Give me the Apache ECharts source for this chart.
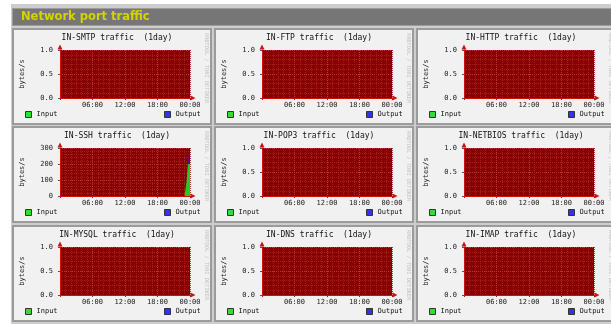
<!DOCTYPE html>
<html>
<head>
<meta charset="utf-8">
<script src="https://cdn.jsdelivr.net/npm/echarts@6/dist/echarts.min.js"></script>
<style>
  html, body { margin: 0; padding: 0; background: #ffffff; }
  #chart { width: 611px; height: 324px; }
</style>
</head>
<body>
<div id="chart"></div>
<script>
// Sample times (hours since midnight, one day window)
const sampleHours = [0, 2, 4, 6, 8, 10, 12, 14, 16, 18, 20, 22, 23, 23.2, 23.4, 23.6, 23.7, 24];

// Traffic per port, bytes/s
const smtpIn     = [0, 0, 0, 0, 0, 0, 0, 0, 0, 0, 0, 0, 0, 0, 0, 0, 0, 0];
const smtpOut    = [0, 0, 0, 0, 0, 0, 0, 0, 0, 0, 0, 0, 0, 0, 0, 0, 0, 0];
const ftpIn      = [0, 0, 0, 0, 0, 0, 0, 0, 0, 0, 0, 0, 0, 0, 0, 0, 0, 0];
const ftpOut     = [0, 0, 0, 0, 0, 0, 0, 0, 0, 0, 0, 0, 0, 0, 0, 0, 0, 0];
const httpIn     = [0, 0, 0, 0, 0, 0, 0, 0, 0, 0, 0, 0, 0, 0, 0, 0, 0, 0];
const httpOut    = [0, 0, 0, 0, 0, 0, 0, 0, 0, 0, 0, 0, 0, 0, 0, 0, 0, 0];
const sshIn      = [0, 0, 0, 0, 0, 0, 0, 0, 0, 0, 0, 0, 0, 0, 100, 200, 200, 200];
const sshOut     = [0, 0, 0, 0, 0, 0, 0, 0, 0, 0, 0, 0, 0, 0, 0, 0, 270, 270];
const pop3In     = [0, 0, 0, 0, 0, 0, 0, 0, 0, 0, 0, 0, 0, 0, 0, 0, 0, 0];
const pop3Out    = [0, 0, 0, 0, 0, 0, 0, 0, 0, 0, 0, 0, 0, 0, 0, 0, 0, 0];
const netbiosIn  = [0, 0, 0, 0, 0, 0, 0, 0, 0, 0, 0, 0, 0, 0, 0, 0, 0, 0];
const netbiosOut = [0, 0, 0, 0, 0, 0, 0, 0, 0, 0, 0, 0, 0, 0, 0, 0, 0, 0];
const mysqlIn    = [0, 0, 0, 0, 0, 0, 0, 0, 0, 0, 0, 0, 0, 0, 0, 0, 0, 0];
const mysqlOut   = [0, 0, 0, 0, 0, 0, 0, 0, 0, 0, 0, 0, 0, 0, 0, 0, 0, 0];
const dnsIn      = [0, 0, 0, 0, 0, 0, 0, 0, 0, 0, 0, 0, 0, 0, 0, 0, 0, 0];
const dnsOut     = [0, 0, 0, 0, 0, 0, 0, 0, 0, 0, 0, 0, 0, 0, 0, 0, 0, 0];
const imapIn     = [0, 0, 0, 0, 0, 0, 0, 0, 0, 0, 0, 0, 0, 0, 0, 0, 0, 0];
const imapOut    = [0, 0, 0, 0, 0, 0, 0, 0, 0, 0, 0, 0, 0, 0, 0, 0, 0, 0];

const portNames = ['SMTP', 'FTP', 'HTTP', 'SSH', 'POP3', 'NETBIOS', 'MYSQL', 'DNS', 'IMAP'];
const inputSeries  = [smtpIn, ftpIn, httpIn, sshIn, pop3In, netbiosIn, mysqlIn, dnsIn, imapIn];
const outputSeries = [smtpOut, ftpOut, httpOut, sshOut, pop3Out, netbiosOut, mysqlOut, dnsOut, imapOut];

// Axis ranges and tick labels
const yMaxSmall = 1.0, yStepSmall = 0.5;
const yMaxSsh = 300, yStepSsh = 100;
const timeTickLabels = ['', '06:00', '12:00', '18:00', '00:00'];

const pageTitle = 'Network port traffic';
const mono = 'DejaVu Sans Mono';

// Panel placement
const colX = [13, 215, 417];
const rowY = [29, 127, 226];
const panelW = 198, panelH = 95;

const grids = [], xAxes = [], yAxes = [], series = [], titles = [], legends = [];
const graphics = [
  // outer frame
  { type: 'rect', shape: { x: 11, y: 4, width: 600, height: 320 },
    style: { fill: '#cdcdcd' }, z: -10 },
  // header bar
  { type: 'rect', shape: { x: 12, y: 8, width: 599, height: 18 },
    style: { fill: '#9c9c9c' }, z: -9 },
  { type: 'rect', shape: { x: 13, y: 9, width: 598, height: 16 },
    style: { fill: '#767676' }, z: -8 },
  { type: 'text', x: 21, y: 17,
    style: { text: pageTitle, fill: '#d4d400', font: 'bold 11.5px "DejaVu Sans"',
             textVerticalAlign: 'middle' }, z: -7 }
];

const toPairs = (vals) => sampleHours.map((h, k) => [h, vals[k]]);

portNames.forEach((port, i) => {
  const px = colX[i % 3], py = rowY[Math.floor(i / 3)];
  const isSsh = port === 'SSH';

  graphics.push({ type: 'rect', shape: { x: px, y: py, width: panelW, height: panelH },
    style: { fill: '#f1f1f1', stroke: '#9b9b9b', lineWidth: 2 }, z: -5 });
  graphics.push({ type: 'text', x: px + 196, y: py + 4, rotation: -Math.PI / 2,
    style: { text: 'RRDTOOL / TOBI OETIKER', fill: '#c2c2c2', font: '5.3px "DejaVu Sans Mono"' }, z: -4 });

  grids.push({ left: px + 47, top: py + 21, width: 130, height: 48,
    show: true, backgroundColor: '#880000', borderWidth: 0 });

  titles.push({ text: 'IN-' + port + ' traffic  (1day)', left: px + 99, top: py,
    textAlign: 'center',
    textStyle: { fontFamily: mono, fontSize: 8, fontWeight: 'normal', color: '#111' } });

  const gridLine = { show: true, lineStyle: { color: '#b43a3a', width: 1, type: [1, 1] } };
  const minorLine = { show: true, lineStyle: { color: '#9e2020', width: 1, type: [1, 1] } };

  xAxes.push({
    type: 'value', gridIndex: i, min: 0, max: 24, interval: 6,
    axisLine: { show: true, onZero: false, lineStyle: { color: '#cc1111', width: 1 },
                symbol: ['none', 'triangle'], symbolSize: [5, 5], symbolOffset: [0, 3] },
    axisTick: { show: true, length: 2, lineStyle: { color: '#cc1111' } },
    axisLabel: { fontFamily: mono, fontSize: 7, color: '#222', margin: 4,
                 formatter: (v) => timeTickLabels[Math.round(v / 6)] },
    splitLine: gridLine,
    minorTick: { show: false, splitNumber: 6 },
    minorSplitLine: minorLine
  });

  const yMax = isSsh ? yMaxSsh : yMaxSmall;
  const yStep = isSsh ? yStepSsh : yStepSmall;
  yAxes.push({
    type: 'value', gridIndex: i, min: 0, max: yMax, interval: yStep,
    name: 'bytes/s', nameLocation: 'middle', nameGap: 34, nameRotate: 90,
    nameTextStyle: { fontFamily: mono, fontSize: 7, color: '#222' },
    axisLine: { show: true, lineStyle: { color: '#cc1111', width: 1 },
                symbol: ['none', 'triangle'], symbolSize: [5, 5], symbolOffset: [0, 3] },
    axisTick: { show: true, length: 2, lineStyle: { color: '#555' } },
    axisLabel: { fontFamily: mono, fontSize: 7, color: '#222', margin: 7,
                 formatter: (v) => isSsh ? String(v) : v.toFixed(1) },
    splitLine: gridLine,
    minorTick: { show: false, splitNumber: 5 },
    minorSplitLine: minorLine
  });

  series.push({
    name: 'Output', type: 'line', xAxisIndex: i, yAxisIndex: i,
    data: toPairs(outputSeries[i]), showSymbol: false, silent: true,
    lineStyle: { width: 0 }, areaStyle: { color: '#2222ee', opacity: 1 }, z: 2
  });
  series.push({
    name: 'Input', type: 'line', xAxisIndex: i, yAxisIndex: i,
    data: toPairs(inputSeries[i]), showSymbol: false, silent: true,
    lineStyle: { width: 0 }, areaStyle: { color: '#22cc22', opacity: 1 }, z: 3
  });

  const legendText = { fontFamily: mono, fontSize: 7, color: '#111' };
  legends.push({
    left: px + 7, top: py + 77, itemWidth: 6, itemHeight: 6, itemGap: 4, icon: 'rect',
    textStyle: legendText, selectedMode: false,
    data: [{ name: 'Input', itemStyle: { color: '#33dd33', borderColor: '#333', borderWidth: 1 } }]
  });
  legends.push({
    left: px + 146, top: py + 77, itemWidth: 6, itemHeight: 6, itemGap: 4, icon: 'rect',
    textStyle: legendText, selectedMode: false,
    data: [{ name: 'Output', itemStyle: { color: '#3333ee', borderColor: '#333', borderWidth: 1 } }]
  });
});

const chart = echarts.init(document.getElementById('chart'), null, { renderer: 'canvas' });
chart.setOption({
  animation: false,
  backgroundColor: '#ffffff',
  title: titles,
  legend: legends,
  grid: grids,
  xAxis: xAxes,
  yAxis: yAxes,
  series: series,
  graphic: graphics
});
</script>
</body>
</html>
